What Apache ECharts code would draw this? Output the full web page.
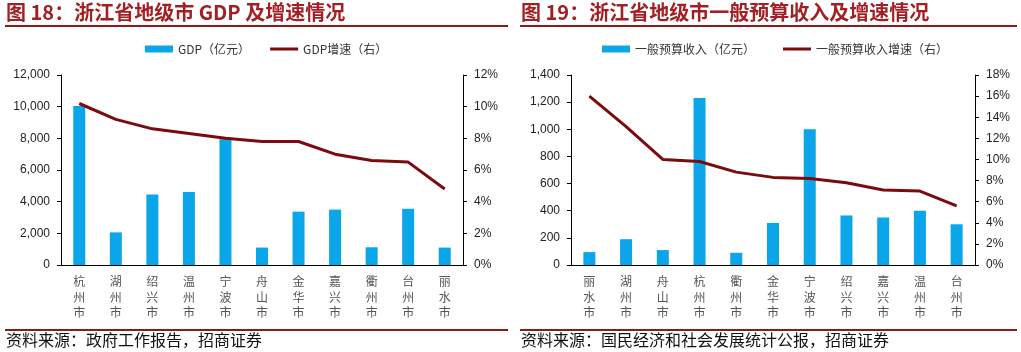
<!DOCTYPE html>
<html>
<head>
<meta charset="utf-8">
<script src="https://cdn.jsdelivr.net/npm/echarts@6/dist/echarts.min.js"></script>
<style>
html,body{margin:0;padding:0;background:#fff;}
#c{width:1021px;height:352px;}
</style>
</head>
<body>
<div id="c"></div>
<script>
// ---- Data ----
const gdpCities = ['杭州市','湖州市','绍兴市','温州市','宁波市','舟山市','金华市','嘉兴市','衢州市','台州市','丽水市'];
const gdpValues = [10050, 2060, 4450, 4610, 7950, 1100, 3370, 3500, 1120, 3550, 1100];
const gdpGrowth = [10.2, 9.2, 8.6, 8.3, 8.0, 7.8, 7.8, 7.0, 6.6, 6.5, 4.8];

const revCities = ['丽水市','湖州市','舟山市','杭州市','衢州市','金华市','宁波市','绍兴市','嘉兴市','温州市','台州市'];
const revValues = [95, 190, 110, 1230, 90, 310, 1000, 365, 350, 400, 300];
const revGrowth = [16.0, 13.1, 10.0, 9.8, 8.8, 8.3, 8.2, 7.8, 7.1, 7.0, 5.6];

const leftTitle = '图 18：浙江省地级市 GDP 及增速情况';
const rightTitle = '图 19：浙江省地级市一般预算收入及增速情况';
const leftSource = '资料来源：政府工作报告，招商证券';
const rightSource = '资料来源：国民经济和社会发展统计公报，招商证券';
const gdpBarName = 'GDP（亿元）';
const gdpLineName = 'GDP增速（右）';
const revBarName = '一般预算收入（亿元）';
const revLineName = '一般预算收入增速（右）';

// ---- Styles ----
const BAR = '#0BA5E9';
const LINE = '#7A0B0E';
const RED = '#A31F24';
const CJK = '"Noto Sans CJK SC", "Liberation Sans", sans-serif';
const NUM = '"Liberation Sans", Arial, sans-serif';
const LINE_ICON = 'path://M0,0 L28,0 L28,3 L0,3 Z';

const chart = echarts.init(document.getElementById('c'), null, {renderer: 'canvas'});

function vert(s) { return s.split('').join('\n'); }
function commas(v) { return String(v).replace(/\B(?=(\d{3})+(?!\d))/g, ','); }

function xAxis(idx, cats) {
  return {
    type: 'category', gridIndex: idx, data: cats,
    axisLine: {lineStyle: {color: '#000', width: 1}},
    axisTick: {show: false},
    axisLabel: {formatter: vert, color: '#555', fontSize: 12, lineHeight: 15.5, margin: 9, fontFamily: CJK, interval: 0}
  };
}
function yAxis(idx, max, interval, fmt, pos) {
  return {
    type: 'value', gridIndex: idx, min: 0, max: max, interval: interval, position: pos,
    splitLine: {show: false},
    axisLine: {show: true, lineStyle: {color: '#000', width: 1}},
    axisTick: {show: true, length: 4, lineStyle: {color: '#000'}},
    axisLabel: {formatter: fmt, color: '#222', fontSize: 12, fontFamily: NUM, margin: 11}
  };
}

const option = {
  animation: false,
  backgroundColor: '#fff',
  grid: [
    {left: 61, top: 75, width: 402, height: 190},
    {left: 571, top: 75, width: 404, height: 190}
  ],
  legend: [
    {left: 140, top: 38, itemGap: 20, itemWidth: 28, itemHeight: 7, symbolKeepAspect: true,
     textStyle: {fontSize: 12, color: '#333', fontFamily: CJK},
     data: [{name: gdpBarName, icon: 'rect'}, {name: gdpLineName, icon: LINE_ICON}]},
    {left: 597, top: 38, itemGap: 28, itemWidth: 28, itemHeight: 7, symbolKeepAspect: true,
     textStyle: {fontSize: 12, color: '#333', fontFamily: CJK},
     data: [{name: revBarName, icon: 'rect'}, {name: revLineName, icon: LINE_ICON}]}
  ],
  xAxis: [xAxis(0, gdpCities), xAxis(1, revCities)],
  yAxis: [
    yAxis(0, 12000, 2000, v => commas(v), 'left'),
    yAxis(0, 12, 2, v => v + '%', 'right'),
    yAxis(1, 1400, 200, v => commas(v), 'left'),
    yAxis(1, 18, 2, v => v + '%', 'right')
  ],
  series: [
    {name: gdpBarName, type: 'bar', xAxisIndex: 0, yAxisIndex: 0, data: gdpValues, barWidth: 12, itemStyle: {color: BAR}},
    {name: gdpLineName, type: 'line', xAxisIndex: 0, yAxisIndex: 1, data: gdpGrowth, symbol: 'none', lineStyle: {color: LINE, width: 3}, itemStyle: {color: LINE}},
    {name: revBarName, type: 'bar', xAxisIndex: 1, yAxisIndex: 2, data: revValues, barWidth: 12, itemStyle: {color: BAR}},
    {name: revLineName, type: 'line', xAxisIndex: 1, yAxisIndex: 3, data: revGrowth, symbol: 'none', lineStyle: {color: LINE, width: 3}, itemStyle: {color: LINE}}
  ],
  graphic: [
    {type: 'text', left: 6, top: 2, style: {text: leftTitle, fill: RED, font: 'bold 20px ' + CJK}},
    {type: 'text', left: 521, top: 2, style: {text: rightTitle, fill: RED, font: 'bold 20px ' + CJK}},
    {type: 'rect', shape: {x: 5, y: 25, width: 503, height: 2}, style: {fill: '#8B1A1A'}},
    {type: 'rect', shape: {x: 520, y: 25, width: 497, height: 2}, style: {fill: '#8B1A1A'}},
    {type: 'rect', shape: {x: 5, y: 329, width: 503, height: 2}, style: {fill: '#8B1A1A'}},
    {type: 'rect', shape: {x: 520, y: 329, width: 497, height: 2}, style: {fill: '#8B1A1A'}},
    {type: 'text', left: 6, top: 332, style: {text: leftSource, fill: '#111', font: '16px ' + CJK}},
    {type: 'text', left: 521, top: 332, style: {text: rightSource, fill: '#111', font: '16px ' + CJK}}
  ]
};
chart.setOption(option);
</script>
</body>
</html>
